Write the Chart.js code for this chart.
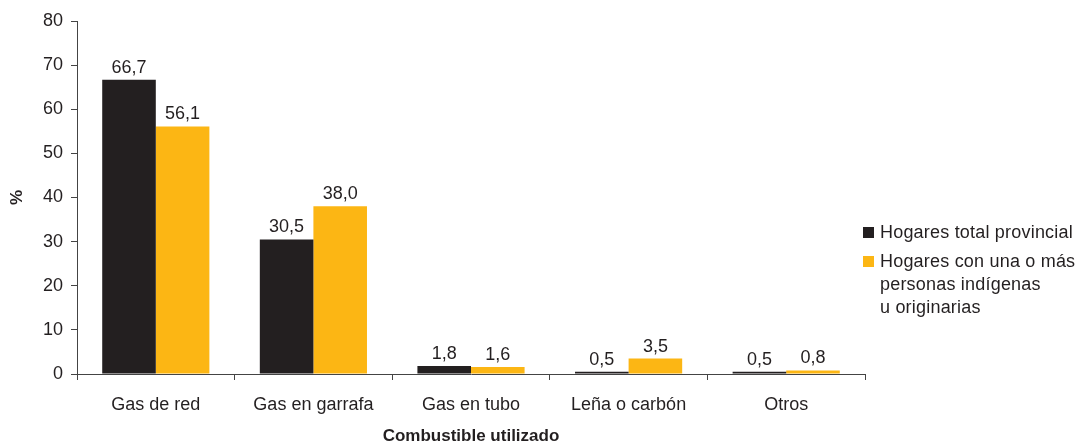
<!DOCTYPE html>
<html><head><meta charset="utf-8">
<script src="https://cdn.jsdelivr.net/npm/chart.js@4/dist/chart.umd.min.js"></script>
<style>
html,body{margin:0;padding:0;background:#fff;}
#wrap{position:relative;width:1080px;height:447px;}
#legend{position:absolute;left:863px;top:221px;font-family:"Liberation Sans",Arial,sans-serif;font-size:18px;letter-spacing:0.2px;color:#231f20;line-height:23px;}
.item{position:relative;padding-left:17px;margin-bottom:6px;}
.sw{position:absolute;left:0;top:6px;width:11px;height:11px;}
</style></head>
<body><div id="wrap"><canvas id="c" width="1080" height="447"></canvas>
<div id="legend"></div></div>
<script>
const categories = ["Gas de red","Gas en garrafa","Gas en tubo","Leña o carbón","Otros"];
const seriesNames = ["Hogares total provincial","Hogares con una o más personas indígenas u originarias"];
const legendLines = [["Hogares total provincial"],["Hogares con una o más","personas indígenas","u originarias"]];
const totalProvincial = [66.7,30.5,1.8,0.5,0.5];
const indigenas = [56.1,38.0,1.6,3.5,0.8];
const yTicks = [0,10,20,30,40,50,60,70,80];
const colors = ["#231F20","#FCB614"];

const font = "Liberation Sans";
const lg = document.getElementById('legend');
legendLines.forEach((lines,i)=>{
  const d=document.createElement('div');d.className='item';
  d.innerHTML='<span class="sw" style="background:'+colors[i]+'"></span>'+lines.join('<br>');
  lg.appendChild(d);
});

const labelPlugin = {
  id:'vals',
  afterDatasetsDraw(chart){
    const ctx=chart.ctx;
    ctx.save();
    ctx.font="18px '"+font+"'";
    ctx.fillStyle="#231f20";
    ctx.textAlign="center";
    ctx.textBaseline="bottom";
    chart.data.datasets.forEach((ds,di)=>{
      chart.getDatasetMeta(di).data.forEach((bar,i)=>{
        ctx.fillText(ds.data[i].toFixed(1).replace('.',','), bar.x, bar.y-3);
      });
    });
    ctx.restore();
  }
};

new Chart(document.getElementById('c'),{
  type:'bar',
  data:{labels:categories,datasets:[
    {label:seriesNames[0],data:totalProvincial,backgroundColor:colors[0]},
    {label:seriesNames[1],data:indigenas,backgroundColor:colors[1]}
  ]},
  options:{
    responsive:false,animation:false,
    layout:{padding:{top:21,right:215,left:0,bottom:0}},
    datasets:{bar:{barPercentage:1.0,categoryPercentage:0.68}},
    plugins:{legend:{display:false},tooltip:{enabled:false}},
    scales:{
      x:{
        grid:{display:true,drawOnChartArea:false,drawTicks:true,tickLength:6,color:'#444',offset:true},
        border:{color:'#444',width:1},
        ticks:{font:{family:font,size:18},color:'#231f20',padding:14,maxRotation:0},
        title:{display:true,text:'Combustible utilizado',font:{family:font,size:17,weight:'bold'},color:'#231f20',padding:{top:17,bottom:0}},
        afterFit(s){s.height=73;}
      },
      y:{
        min:0,max:80,
        afterBuildTicks(s){s.ticks=yTicks.map(v=>({value:v}));},
        grid:{display:true,drawOnChartArea:false,drawTicks:true,tickLength:6,color:'#444'},
        border:{color:'#444',width:1},
        ticks:{font:{family:font,size:18},color:'#231f20',padding:8},
        title:{display:true,text:'%',font:{family:font,size:17,weight:'bold'},color:'#231f20',padding:{top:7,bottom:0}},
        afterFit(s){s.width=77;}
      }
    }
  },
  plugins:[labelPlugin]
});
</script></body></html>
